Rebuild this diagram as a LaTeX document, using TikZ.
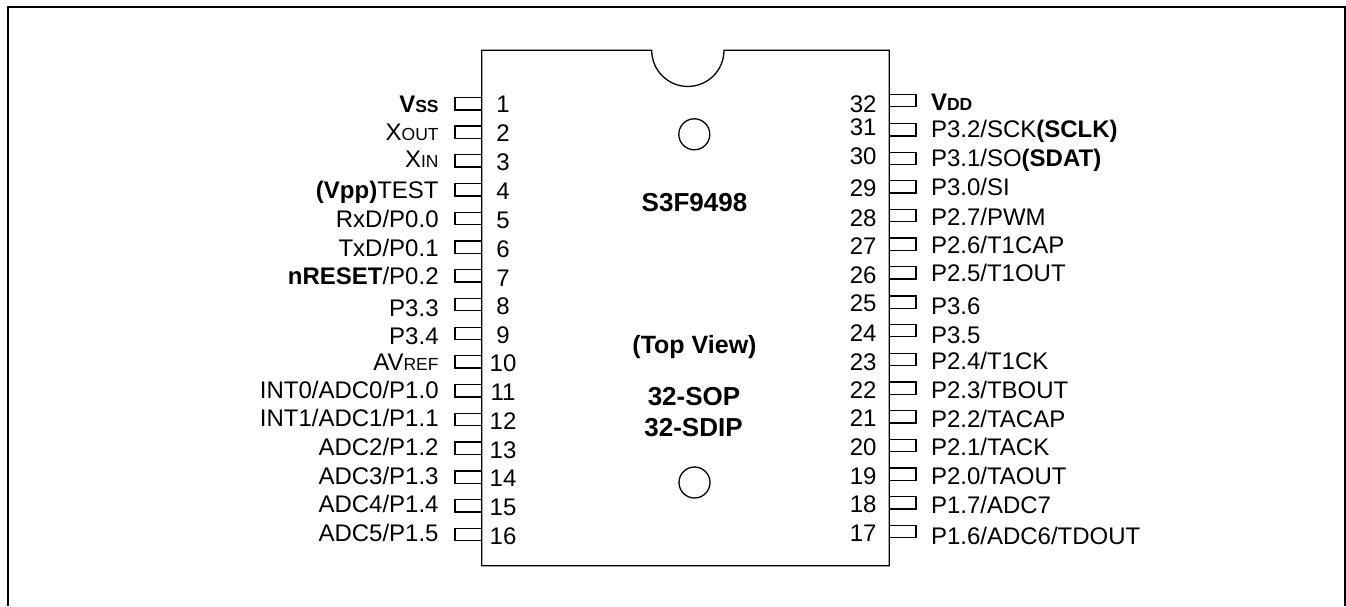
\documentclass[tikz,border=0pt]{standalone}
\usepackage{fontspec}
\setmainfont{Liberation Sans}
\newcommand{\smc}[1]{{\fontsize{17.5pt}{19pt}\selectfont #1}}
\tikzset{
  every node/.style={inner sep=0pt,outer sep=0pt,font=\fontsize{24pt}{26pt}\selectfont,text=black},
  lft/.style={anchor=base east},
  rgt/.style={anchor=base west},
  mid/.style={anchor=base},
  pinbox/.style={draw=black,line width=1.3pt},
  chip/.style={draw=black,line width=1.3pt},
  frameline/.style={draw=black,line width=2pt},
  title/.style={anchor=base,font=\fontsize{26pt}{28pt}\bfseries\selectfont}
}
\begin{document}
\begin{tikzpicture}[x=1pt,y=-1pt]
\useasboundingbox (0,0) rectangle (1346,606);
\fill[white] (0,0) rectangle (1346,606);
\draw[frameline] (8.3,606) -- (8.3,7) -- (1345,7) -- (1345,606);
\draw[chip,line join=miter] (481.7,565.7) -- (481.7,50.3) -- (651.7,50.3)
  arc[start angle=180,end angle=0,radius=36.15] -- (889.3,50.3) -- (889.3,565.7) -- cycle;
\node[circle,draw=black,line width=1.3pt,minimum size=31pt] (holeA) at (694.3,134.3) {};
\node[circle,draw=black,line width=1.3pt,minimum size=31pt] (holeB) at (694.5,482.5) {};
\foreach \t [count=\i] in {97.7,126,154.7,183.7,212.3,241,269.7,298.3,327.3,355.7,384.7,413.3,442,471,499.7,528.3}
  \draw[pinbox] (481.7,\t) -- (455,\t) -- (455,\t+12.4) -- (481.7,\t+12.4);
\foreach \t [count=\i] in {94.3,123.7,152.3,180.7,209.3,238,266.7,296,324.3,353.3,382,410.7,439.3,468,496.7,525.3}
  \draw[pinbox] (889.3,\t) -- (916,\t) -- (916,\t+12.4) -- (889.3,\t+12.4);
\foreach \b/\txt [count=\i] in {
  112.3/{\textbf{V\smc{SS}}},
  140/{X\smc{OUT}},
  167.7/{X\smc{IN}},
  198.3/{\textbf{(Vpp)}TEST},
  227.7/{RxD/P0.0},
  256.7/{TxD/P0.1},
  284.3/{\textbf{nRESET}/P0.2},
  316.7/{P3.3},
  344.7/{P3.4},
  370/{AV\smc{REF}},
  398.7/{INT0/ADC0/P1.0},
  426.7/{INT1/ADC1/P1.1},
  455.7/{ADC2/P1.2},
  484/{ADC3/P1.3},
  512.7/{ADC4/P1.4},
  541.7/{ADC5/P1.5}}
  \node[lft] (L\i) at (438.6,\b) {\txt};
\foreach \b [count=\i] in {112.7,141.7,170,199,228.3,257.3,286,314.3,343.3,371.7,400.7,429,458,486.7,515,544.3}
  \node[mid] (N\i) at (503,\b) {\i};
\foreach \b/\n in {112.7/32,135.7/31,164/30,196.7/29,226/28,254/27,283.3/26,311.7/25,341.7/24,370/23,398.3/22,426.7/21,455.3/20,484/19,512.3/18,541/17}
  \node[lft] (N\n) at (876.5,\b) {\n};
\foreach \b/\txt [count=\i] in {
  110/{\textbf{V\smc{DD}}},
  137.3/{P3.2/SCK\textbf{(SCLK)}},
  166.7/{P3.1/SO\textbf{(SDAT)}},
  195.7/{P3.0/SI},
  225.7/{P2.7/PWM},
  253.3/{P2.6/T1CAP},
  281.7/{P2.5/T1OUT},
  314/{P3.6},
  343.3/{P3.5},
  369/{P2.4/T1CK},
  398.3/{P2.3/TBOUT},
  427/{P2.2/TACAP},
  455/{P2.1/TACK},
  484/{P2.0/TAOUT},
  513.3/{P1.7/ADC7},
  544.3/{P1.6/ADC6/TDOUT}}
  \node[rgt] (R\i) at (931,\b) {\txt};
\node[title] (part) at (694.5,211) {S3F9498};
\node[title,font=\fontsize{25pt}{27pt}\bfseries\selectfont] (view) at (694.5,353.3) {(Top View)};
\node[title] (sop) at (694,405) {32-SOP};
\node[title] (sdip) at (693.5,436.7) {32-SDIP};
\end{tikzpicture}
\end{document}
